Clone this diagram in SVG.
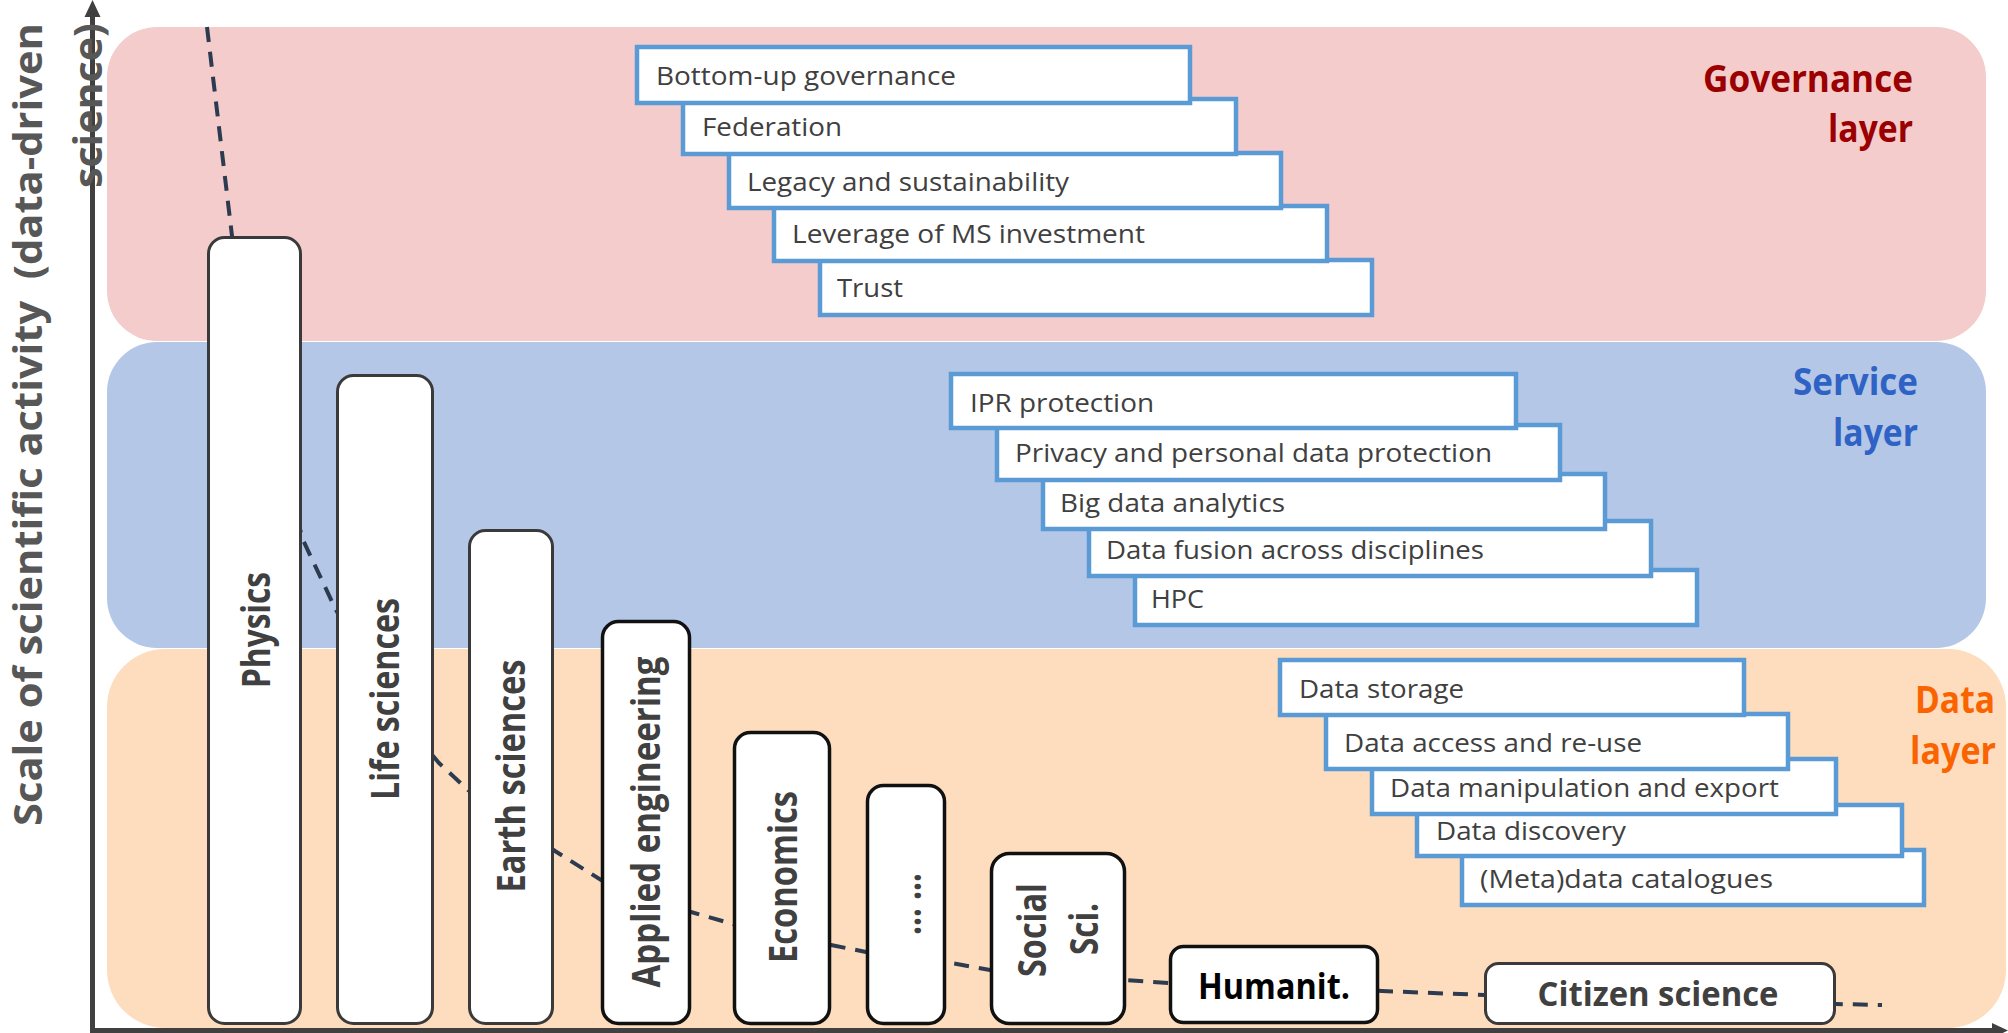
<svg xmlns="http://www.w3.org/2000/svg" width="2008" height="1033" viewBox="0 0 2008 1033">
  <defs>
    <style>
      .bg{fill:#ffffff}
      .layer-gov{fill:#F4CCCC}
      .layer-svc{fill:#B4C7E7}
      .layer-data{fill:#FDDDBD}
      .item rect{fill:#ffffff;stroke:#5B9BD5;stroke-width:4.5}
      .item text{font-family:"Open Sans","Noto Sans","DejaVu Sans",sans-serif;font-size:25px;fill:#404040}
      .bar rect{fill:#ffffff;stroke:#3a3a3a;stroke-width:3}
      .bar text{font-family:"Open Sans","Noto Sans","DejaVu Sans",sans-serif;font-weight:700;font-size:39px;fill:#404040;text-anchor:middle}
      .bar.dark rect{stroke:#111111;stroke-width:3.5}
      .bar.dark text{fill:#000000}
      .lbl{font-family:"Open Sans","Noto Sans","DejaVu Sans",sans-serif;font-weight:700;font-size:37px;text-anchor:end}
      .axis{stroke:#404040;stroke-width:5;fill:none}
      .axis-head{fill:#404040}
      .axis-label{font-family:"Open Sans","Noto Sans","DejaVu Sans",sans-serif;font-weight:700;font-size:40px;fill:#575757;text-anchor:middle}
      .trend{fill:none;stroke:#2c3b4f;stroke-width:4;stroke-dasharray:15 10}
    </style>
  </defs>

  <rect class="bg" x="0" y="0" width="2008" height="1033"/>

  <!-- three stacked layer bands -->
  <g id="layers">
    <rect class="layer-gov" x="107" y="27" width="1879" height="314" rx="50" ry="50"/>
    <rect class="layer-svc" x="107" y="342" width="1879" height="306" rx="50" ry="50"/>
    <rect class="layer-data" x="107" y="649" width="1899" height="379" rx="58" ry="58"/>
  </g>

  <!-- axes -->
  <g id="axes">
    <line class="axis" x1="92.5" y1="1033" x2="92.5" y2="14"/>
    <polygon class="axis-head" points="92.5,0 84.5,17 100.5,17"/>
    <line class="axis" x1="90" y1="1030.5" x2="1994" y2="1030.5"/>
    <polygon class="axis-head" points="2008,1030.5 1992,1023 1992,1038"/>
    <text class="axis-label" transform="translate(42,424.5) rotate(-90)" textLength="803" lengthAdjust="spacingAndGlyphs">Scale of scientific activity&#160; (data-driven</text>
    <text class="axis-label" transform="translate(102,105.5) rotate(-90)" textLength="165" lengthAdjust="spacingAndGlyphs">science)</text>
  </g>

  <!-- dashed trend across disciplines -->
  <g id="connectors">
    <path class="trend" d="M207,27 L232,236 L270,420 L303,540 L335,608 L385,700 L439,763 L468,790 L555,851 L601,880 L691,912 L733,924 L831,945 L866,952 L946,962 L990,970 L1126,980 L1169,983 L1382,991 L1484,995 L1836,1004 L1882,1005"/>
  </g>

  <!-- discipline bars -->
  <g id="bar-physics" class="bar">
    <rect x="208.5" y="237.5" width="92" height="786" rx="16"/>
    <text transform="translate(270,630) rotate(-90)" textLength="116" lengthAdjust="spacingAndGlyphs">Physics</text>
  </g>
  <g id="bar-life" class="bar">
    <rect x="337.5" y="375.5" width="95" height="648" rx="16"/>
    <text transform="translate(399,699) rotate(-90)" textLength="202" lengthAdjust="spacingAndGlyphs">Life sciences</text>
  </g>
  <g id="bar-earth" class="bar">
    <rect x="469.5" y="530.5" width="83" height="493" rx="16"/>
    <text transform="translate(525,776) rotate(-90)" textLength="233" lengthAdjust="spacingAndGlyphs">Earth sciences</text>
  </g>
  <g id="bar-applied" class="bar dark">
    <rect x="602.5" y="621.5" width="87" height="402" rx="16"/>
    <text transform="translate(660,822) rotate(-90)" textLength="331" lengthAdjust="spacingAndGlyphs" style="fill:#404040">Applied engineering</text>
  </g>
  <g id="bar-economics" class="bar dark">
    <rect x="734.5" y="732.5" width="95" height="291" rx="16"/>
    <text transform="translate(797,877) rotate(-90)" textLength="172" lengthAdjust="spacingAndGlyphs" style="fill:#404040">Economics</text>
  </g>
  <g id="bar-more" class="bar dark">
    <rect x="867.5" y="785.5" width="77" height="238" rx="16"/>
    <text transform="translate(921,904) rotate(-90)" textLength="62" lengthAdjust="spacingAndGlyphs" style="fill:#404040">… …</text>
  </g>
  <g id="bar-social" class="bar dark">
    <rect x="991.5" y="853.5" width="133" height="170" rx="18"/>
    <text transform="translate(1046,930) rotate(-90)" textLength="94" lengthAdjust="spacingAndGlyphs" style="fill:#404040">Social</text>
    <text transform="translate(1098,929) rotate(-90)" textLength="52" lengthAdjust="spacingAndGlyphs" style="fill:#404040">Sci.</text>
  </g>
  <g id="bar-humanities" class="bar dark">
    <rect x="1170.5" y="946.5" width="207" height="76" rx="13"/>
    <text x="1274" y="999" textLength="152" lengthAdjust="spacingAndGlyphs" style="font-size:36px">Humanit.</text>
  </g>
  <g id="bar-citizen" class="bar">
    <rect x="1485.5" y="963.5" width="349" height="60" rx="13"/>
    <text x="1658" y="1006" textLength="241" lengthAdjust="spacingAndGlyphs" style="font-size:34px">Citizen science</text>
  </g>

  <!-- governance layer items (top item drawn last) -->
  <g id="gov-items">
    <g id="gov-trust" class="item">
      <rect x="820" y="260" width="552" height="55"/>
      <text x="837" y="297" textLength="66" lengthAdjust="spacingAndGlyphs">Trust</text>
    </g>
    <g id="gov-leverage" class="item">
      <rect x="774" y="206" width="553" height="55"/>
      <text x="792" y="243" textLength="353" lengthAdjust="spacingAndGlyphs">Leverage of MS investment</text>
    </g>
    <g id="gov-legacy" class="item">
      <rect x="729" y="153" width="552" height="55"/>
      <text x="747" y="191" textLength="322" lengthAdjust="spacingAndGlyphs">Legacy and sustainability</text>
    </g>
    <g id="gov-federation" class="item">
      <rect x="683" y="99" width="553" height="55"/>
      <text x="702" y="136" textLength="140" lengthAdjust="spacingAndGlyphs">Federation</text>
    </g>
    <g id="gov-bottomup" class="item">
      <rect x="637" y="47" width="553" height="56"/>
      <text x="656" y="85" textLength="300" lengthAdjust="spacingAndGlyphs">Bottom-up governance</text>
    </g>
  </g>

  <!-- service layer items -->
  <g id="svc-items">
    <g id="svc-hpc" class="item">
      <rect x="1135" y="570" width="562" height="55"/>
      <text x="1151" y="608" textLength="53" lengthAdjust="spacingAndGlyphs">HPC</text>
    </g>
    <g id="svc-fusion" class="item">
      <rect x="1089" y="521" width="562" height="55"/>
      <text x="1106" y="559" textLength="378" lengthAdjust="spacingAndGlyphs">Data fusion across disciplines</text>
    </g>
    <g id="svc-analytics" class="item">
      <rect x="1043" y="474" width="562" height="55"/>
      <text x="1060" y="512" textLength="225" lengthAdjust="spacingAndGlyphs">Big data analytics</text>
    </g>
    <g id="svc-privacy" class="item">
      <rect x="997" y="425" width="563" height="55"/>
      <text x="1015" y="462" textLength="477" lengthAdjust="spacingAndGlyphs">Privacy and personal data protection</text>
    </g>
    <g id="svc-ipr" class="item">
      <rect x="951" y="374" width="565" height="54"/>
      <text x="970" y="412" textLength="184" lengthAdjust="spacingAndGlyphs">IPR protection</text>
    </g>
  </g>

  <!-- data layer items -->
  <g id="data-items">
    <g id="data-catalogues" class="item">
      <rect x="1462" y="850" width="462" height="55"/>
      <text x="1480" y="888" textLength="293" lengthAdjust="spacingAndGlyphs">(Meta)data catalogues</text>
    </g>
    <g id="data-discovery" class="item">
      <rect x="1417" y="805" width="485" height="51"/>
      <text x="1436" y="840" textLength="190" lengthAdjust="spacingAndGlyphs">Data discovery</text>
    </g>
    <g id="data-manipulation" class="item">
      <rect x="1372" y="759" width="464" height="55"/>
      <text x="1390" y="797" textLength="389" lengthAdjust="spacingAndGlyphs">Data manipulation and export</text>
    </g>
    <g id="data-access" class="item">
      <rect x="1326" y="714" width="462" height="55"/>
      <text x="1344" y="752" textLength="298" lengthAdjust="spacingAndGlyphs">Data access and re-use</text>
    </g>
    <g id="data-storage" class="item">
      <rect x="1280" y="660" width="464" height="55"/>
      <text x="1299" y="698" textLength="165" lengthAdjust="spacingAndGlyphs">Data storage</text>
    </g>
  </g>

  <!-- layer titles -->
  <g id="layer-titles">
    <text class="lbl" x="1913" y="92" fill="#9A0000" textLength="210" lengthAdjust="spacingAndGlyphs">Governance</text>
    <text class="lbl" x="1913" y="142" fill="#9A0000" textLength="85" lengthAdjust="spacingAndGlyphs">layer</text>
    <text class="lbl" x="1918" y="395" fill="#2E62C4" textLength="125" lengthAdjust="spacingAndGlyphs">Service</text>
    <text class="lbl" x="1918" y="446" fill="#2E62C4" textLength="85" lengthAdjust="spacingAndGlyphs">layer</text>
    <text class="lbl" x="1995" y="713" fill="#FA6400" textLength="80" lengthAdjust="spacingAndGlyphs">Data</text>
    <text class="lbl" x="1996" y="764" fill="#FA6400" textLength="86" lengthAdjust="spacingAndGlyphs">layer</text>
  </g>
</svg>
